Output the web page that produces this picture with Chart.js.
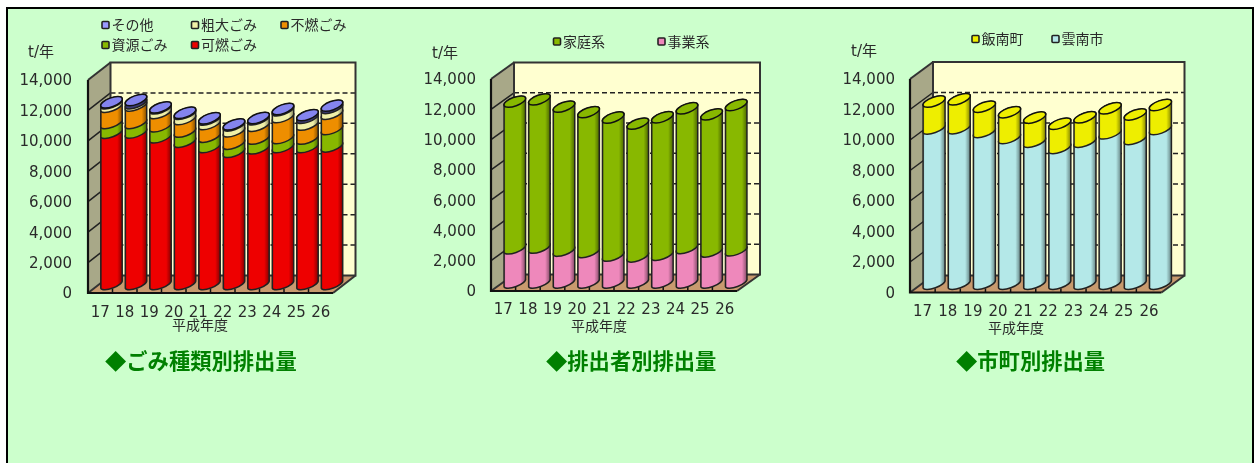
<!DOCTYPE html>
<html lang="ja"><head><meta charset="utf-8">
<style>
html,body{margin:0;padding:0;background:#fff;width:1254px;height:463px;overflow:hidden}
#frame{position:absolute;left:6px;top:7px;width:1244px;height:470px;border:2px solid #000;background:#CCFFCC}
canvas{position:absolute;filter:blur(.3px)}
</style>
<script src="https://cdn.jsdelivr.net/npm/chart.js@4/dist/chart.umd.min.js"></script>
</head><body><div id="frame"></div>
<canvas id="c1" width="407" height="453" style="left:8px;top:10px"></canvas>
<canvas id="c2" width="420" height="453" style="left:415px;top:10px"></canvas>
<canvas id="c3" width="415" height="453" style="left:835px;top:10px"></canvas>
<script>
// ---- data (t/year) ----
const years = ['17','18','19','20','21','22','23','24','25','26'];
const yTicksMax = 14000, yTickStep = 2000;
const kanen   = [9940,9950,9640,9350,9000,8680,8910,9000,9000,9040];
const shigen  = [640,630,720,660,680,540,640,590,550,1140];
const funen   = [1070,1150,880,830,830,810,850,1380,920,1010];
const sodai   = [230,150,300,340,300,390,430,450,450,380];
const sonota  = [80,230,90,90,100,90,100,100,200,170];
const jigyo   = [2250,2300,2100,2010,1770,1720,1830,2280,2050,2120];
const katei   = [9710,9810,9530,9260,9140,8790,9100,9240,9070,9620];
const unnan   = [10180,10200,9950,9550,9310,8900,9310,9860,9490,10140];
const iinan   = [1780,1910,1680,1720,1600,1610,1620,1660,1630,1600];

const LATIN = '"DejaVu Sans","Noto Sans CJK JP",sans-serif';
const CJK = '"Noto Sans CJK JP",sans-serif';
const INK = '#2a2a2a';

function mix(hex, k){ // darken a colour towards black
  const n = parseInt(hex.slice(1),16);
  const c = [n>>16,(n>>8)&255,n&255].map(v=>Math.round(v*(1-k)));
  return `rgb(${c[0]},${c[1]},${c[2]})`;
}

const cylinder3d = {
  id:'cylinder3d',
  beforeDatasetDraw(){ return false; },
  beforeDatasetsDraw(chart){
    const o = chart.options.plugins.cylinder3d, c = chart.ctx, a = chart.chartArea;
    const dx=o.dx, dy=o.dy, y=chart.scales.y, x=chart.scales.x;
    c.save();
    c.fillStyle='#FFFFD0';
    c.fillRect(a.left+dx,a.top-dy,a.width,a.height);
    c.fillStyle='#A8A888';
    c.beginPath();c.moveTo(a.left,a.top);c.lineTo(a.left+dx,a.top-dy);c.lineTo(a.left+dx,a.bottom-dy);c.lineTo(a.left,a.bottom);c.closePath();c.fill();
    c.fillStyle='#C89A6E';
    c.beginPath();c.moveTo(a.left,a.bottom);c.lineTo(a.left+dx,a.bottom-dy);c.lineTo(a.right+dx,a.bottom-dy);c.lineTo(a.right,a.bottom);c.closePath();c.fill();
    c.strokeStyle='#222';c.lineWidth=1.5;
    y.ticks.forEach(t=>{
      const p=y.getPixelForValue(t.value);
      if(t.value>0 && t.value<yTicksMax){
        c.setLineDash([5,3]);
        c.beginPath();c.moveTo(a.left+dx,p-dy);c.lineTo(a.right+dx,p-dy);c.stroke();
        c.setLineDash([]);
        c.beginPath();c.moveTo(a.left,p);c.lineTo(a.left+dx,p-dy);c.stroke();
      }
    });
    c.setLineDash([]);
    c.strokeStyle='#333';c.lineWidth=2;
    c.strokeRect(a.left+dx,a.top-dy,a.width,a.height);
    c.beginPath();c.moveTo(a.left,a.top);c.lineTo(a.left+dx,a.top-dy);c.stroke();
    c.beginPath();c.moveTo(a.right,a.bottom);c.lineTo(a.right+dx,a.bottom-dy);c.stroke();
    c.beginPath();c.moveTo(a.left,a.bottom);c.lineTo(a.left+dx,a.bottom-dy);c.stroke();
    c.strokeStyle='#111';c.lineWidth=2.2;
    c.beginPath();c.moveTo(a.left,a.top);c.lineTo(a.left,a.bottom);c.lineTo(a.right,a.bottom);c.stroke();
    c.lineWidth=1.5;
    const step=a.width/x.ticks.length;
    for(let i=1;i<x.ticks.length;i++){
      const px=a.left+i*step;
      c.beginPath();c.moveTo(px,a.bottom);c.lineTo(px,a.bottom-4);c.stroke();
    }
    c.restore();
  },
  afterDatasetsDraw(chart){
    const o = chart.options.plugins.cylinder3d, c = chart.ctx;
    const dx=o.dx, dy=o.dy, rot=-20*Math.PI/180, ry=4;
    const n=chart.data.datasets.length;
    chart.data.datasets.forEach((ds,di)=>{
      const meta=chart.getDatasetMeta(di);
      meta.data.forEach(el=>{
        const cx=el.x+dx/2, yT=el.y-dy/2, yB=el.base-dy/2, rx=el.width/2;
        const side=ds.sideColor||ds.backgroundColor;
        const g=c.createLinearGradient(cx-rx,0,cx+rx,0);
        g.addColorStop(0,mix(side,.4));g.addColorStop(.1,side);
        g.addColorStop(.75,side);g.addColorStop(1,mix(side,.5));
        c.save();
        c.beginPath();
        c.ellipse(cx,yB,rx,ry,rot,0,Math.PI);
        c.ellipse(cx,yT,rx,ry,rot,Math.PI,2*Math.PI);
        c.closePath();
        c.fillStyle=g;c.fill();
        c.strokeStyle='#222';c.lineWidth=1.5;c.stroke();
        if(di===n-1){
          c.beginPath();c.ellipse(cx,yT,rx,ry+.4,rot,0,2*Math.PI);
          c.fillStyle=ds.backgroundColor;c.fill();
          c.strokeStyle='#111';c.lineWidth=1.5;c.stroke();
        }
        c.restore();
      });
    });
  },
  afterDraw(chart){
    const o = chart.options.plugins.cylinder3d, c = chart.ctx;
    const P=o.panel, X=v=>v-P.x, Y=v=>v-P.y;
    c.save();
    c.textBaseline='middle';c.fillStyle=INK;
    c.font=`15px ${LATIN}`;c.textAlign='left';
    c.fillText('t/年',X(o.unit[0]),Y(o.unit[1]));
    c.font=`14px ${CJK}`;c.textAlign='center';
    c.fillText('平成年度',X(o.axisTitle[0]),Y(o.axisTitle[1]));
    c.textAlign='left';
    o.legend.forEach(it=>{
      const ds=chart.data.datasets[it.ds];
      c.fillStyle=ds.legendColor||ds.backgroundColor;
      c.strokeStyle='#222';c.lineWidth=1.6;
      c.beginPath();c.roundRect(X(it.x)+1,Y(it.y)-3.5,7,7,1);c.fill();c.stroke();
      c.fillStyle=INK;
      c.font=`14px ${CJK}`;
      c.fillText(ds.label,X(it.x)+10.5,Y(it.y));
    });
    c.font=`bold 21.3px ${CJK}`;c.fillStyle='#008000';c.textAlign='left';
    c.fillText(o.heading,X(o.headingAt[0]),Y(o.headingAt[1]));
    c.restore();
  }
};
Chart.register(cylinder3d);

function nudgeLabels(s){ // y tick digits sit slightly low, as in the reference
  if(s._nudged) return;
  s._nudged=true;
  const d=s.drawLabels;
  s.drawLabels=function(a){this.ctx.save();this.ctx.translate(0,1.5);d.call(this,a);this.ctx.restore();};
}

function build(id,panel,F,dx,dy,datasets,extra,yPad,xPad){
  const yw=72,xh=30;
  new Chart(document.getElementById(id),{
    type:'bar',
    data:{labels:years,datasets},
    options:{
      responsive:false,animation:false,
      layout:{padding:{left:F.l-panel.x-yw,top:F.t-panel.y,right:panel.x+panel.w-F.r,bottom:panel.h-(F.b-panel.y)-xh}},
      datasets:{bar:{categoryPercentage:.93,barPercentage:1}},
      plugins:{legend:{display:false},tooltip:{enabled:false},
        cylinder3d:Object.assign({dx,dy,panel},extra)},
      scales:{
        x:{stacked:true,grid:{display:false,drawTicks:false},border:{display:false},afterFit(s){s.height=xh;},
          ticks:{autoSkip:false,maxRotation:0,minRotation:0,padding:xPad,color:INK,font:{family:LATIN,size:15}}},
        y:{stacked:true,min:0,max:yTicksMax,grid:{display:false,drawTicks:false},border:{display:false},afterFit(s){s.width=yw;},afterUpdate:nudgeLabels,
          ticks:{stepSize:yTickStep,padding:yPad,color:INK,font:{family:LATIN,size:15},
            callback:v=>v.toLocaleString('en-US')}}
      }
    }
  });
}

build('c1',{x:8,y:10,w:407,h:453},{l:88,r:333,t:80,b:293},22.5,17.5,[
  {label:'可燃ごみ',data:kanen,backgroundColor:'#EE0000'},
  {label:'資源ごみ',data:shigen,backgroundColor:'#88B800'},
  {label:'不燃ごみ',data:funen,backgroundColor:'#EE8E00'},
  {label:'粗大ごみ',data:sodai,backgroundColor:'#F0F0A8'},
  {label:'その他',data:sonota,backgroundColor:'#8484EE',sideColor:'#3C3C78',legendColor:'#9999FF'}
],{unit:[28,53],axisTitle:[200,325],heading:'◆ごみ種類別排出量',headingAt:[105,361],
  legend:[{ds:4,x:101,y:25},{ds:3,x:190.5,y:25},{ds:2,x:280,y:25},{ds:1,x:101,y:45},{ds:0,x:190.5,y:45}]},16,11);

build('c2',{x:415,y:10,w:420,h:453},{l:491,r:737,t:79,b:291},23,16.5,[
  {label:'事業系',data:jigyo,backgroundColor:'#EE88BB'},
  {label:'家庭系',data:katei,backgroundColor:'#88B800'}
],{unit:[432,54],axisTitle:[599,325.5],heading:'◆排出者別排出量',headingAt:[546,361],
  legend:[{ds:1,x:552.5,y:41.5},{ds:0,x:657,y:41.5}]},15,10);

build('c3',{x:835,y:10,w:415,h:453},{l:910,r:1161.5,t:79,b:292.5},23,17,[
  {label:'雲南市',data:unnan,backgroundColor:'#B4E8E8'},
  {label:'飯南町',data:iinan,backgroundColor:'#EEEE00'}
],{unit:[851,52],axisTitle:[1016,327.5],heading:'◆市町別排出量',headingAt:[956,361],
  legend:[{ds:1,x:971,y:39},{ds:0,x:1051,y:39}]},15,11);
</script></body></html>
